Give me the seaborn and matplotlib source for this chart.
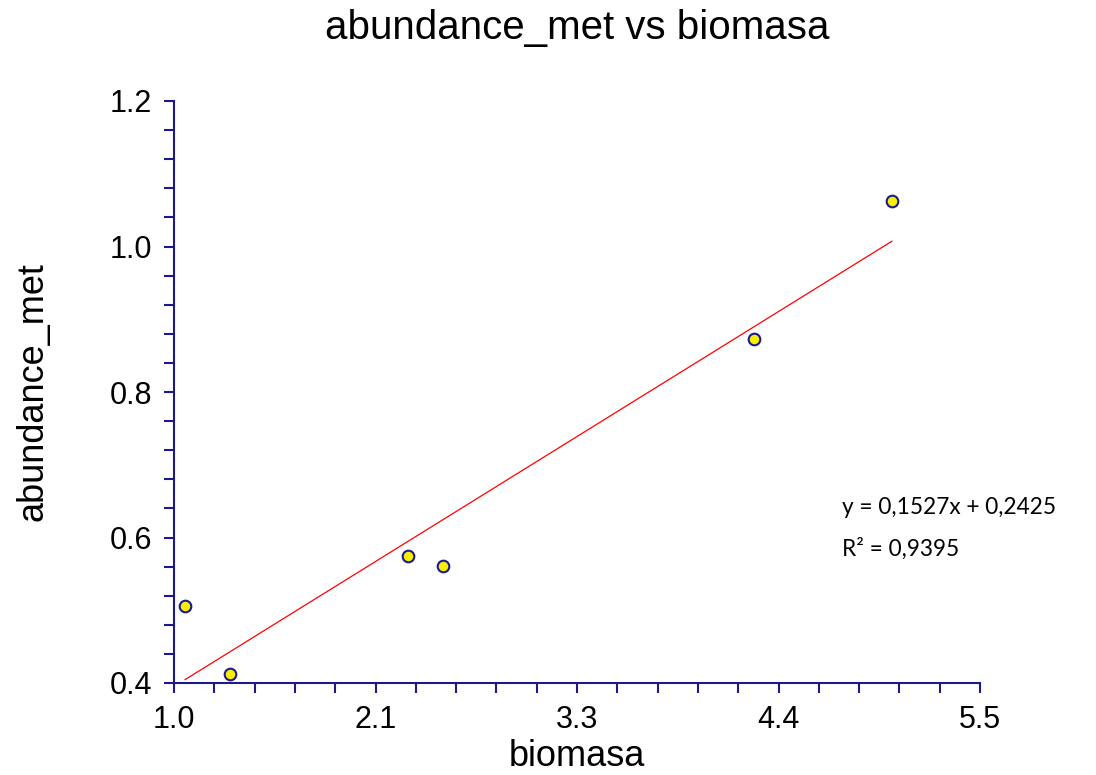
import numpy as np
import pandas as pd
import matplotlib
matplotlib.use("Agg")
import matplotlib.pyplot as plt
import seaborn as sns
from matplotlib.ticker import MultipleLocator, FixedLocator, FixedFormatter

biomasa = [1.061, 1.313, 2.307, 2.502, 4.238, 5.009]
abundance_met = [0.506, 0.412, 0.575, 0.561, 0.873, 1.063]
slope = 0.1527
intercept = 0.2425
r2 = 0.9395
x_ticks = [1.0, 2.125, 3.25, 4.375, 5.5]
x_tick_labels = ["1.0", "2.1", "3.3", "4.4", "5.5"]
y_ticks = [0.4, 0.6, 0.8, 1.0, 1.2]
y_tick_labels = ["0.4", "0.6", "0.8", "1.0", "1.2"]

sns.set_theme(style="white")
plt.rcParams['font.family'] = ['Liberation Sans', 'DejaVu Sans']

navy = "#1a1a8c"
W, H = 1096, 775
fig = plt.figure(figsize=(W / 100, H / 100), dpi=100)
L, R, T, B = 174, 980, 101, 683
ax = fig.add_axes([L / W, 1 - B / H, (R - L) / W, (B - T) / H])

df = pd.DataFrame({"biomasa": biomasa, "abundance_met": abundance_met})
xs = np.array([min(biomasa), max(biomasa)])
line_df = pd.DataFrame({"x": xs, "y": slope * xs + intercept})
sns.lineplot(data=line_df, x="x", y="y", ax=ax, color="#ff0000", linewidth=0.9, zorder=2)
sns.scatterplot(data=df, x="biomasa", y="abundance_met", ax=ax, s=70,
                color="#f7ee00", edgecolor=navy, linewidth=1.5, zorder=3)

ax.set_xlim(1.0, 5.5)
ax.set_ylim(0.4, 1.2)
ax.xaxis.set_major_locator(FixedLocator(x_ticks))
ax.xaxis.set_major_formatter(FixedFormatter(x_tick_labels))
ax.xaxis.set_minor_locator(MultipleLocator(0.225, offset=1.0))
ax.yaxis.set_major_locator(FixedLocator(y_ticks))
ax.yaxis.set_major_formatter(FixedFormatter(y_tick_labels))
ax.yaxis.set_minor_locator(MultipleLocator(0.04))

for s in ["top", "right"]:
    ax.spines[s].set_visible(False)
for s in ["left", "bottom"]:
    ax.spines[s].set_color(navy)
    ax.spines[s].set_linewidth(1.5)

ax.tick_params(which="both", direction="out", length=7, width=1.5, color=navy,
               bottom=True, left=True)
ax.tick_params(which="major", labelsize=22, labelcolor="black", pad=9)

ax.set_xlabel("biomasa", fontsize=26, color="black")
ax.set_ylabel("abundance_met", fontsize=26, color="black")
ax.xaxis.set_label_coords(0.5, (B - 757) / (B - T))
ax.xaxis.label.set_va("center")
ax.yaxis.set_label_coords((33 - L) / (R - L), 0.5)
ax.yaxis.label.set_va("center")

fig.text(577 / W, 1 - 28 / H, "abundance_met vs biomasa", fontsize=29,
         ha="center", va="center", color="black")

eq = f"y = {slope:.4f}x + {intercept:.4f}".replace(".", ",")
rr = f"R² = {r2:.4f}".replace(".", ",")
fig.text(842 / W, 1 - 507 / H, eq, fontsize=16.3, family=["Lato", "DejaVu Sans"],
         ha="left", va="center", color="black")
fig.text(842 / W, 1 - 549 / H, rr, fontsize=16.3, family=["Lato", "DejaVu Sans"],
         ha="left", va="center", color="black")

fig.savefig("out.png", dpi=100)
